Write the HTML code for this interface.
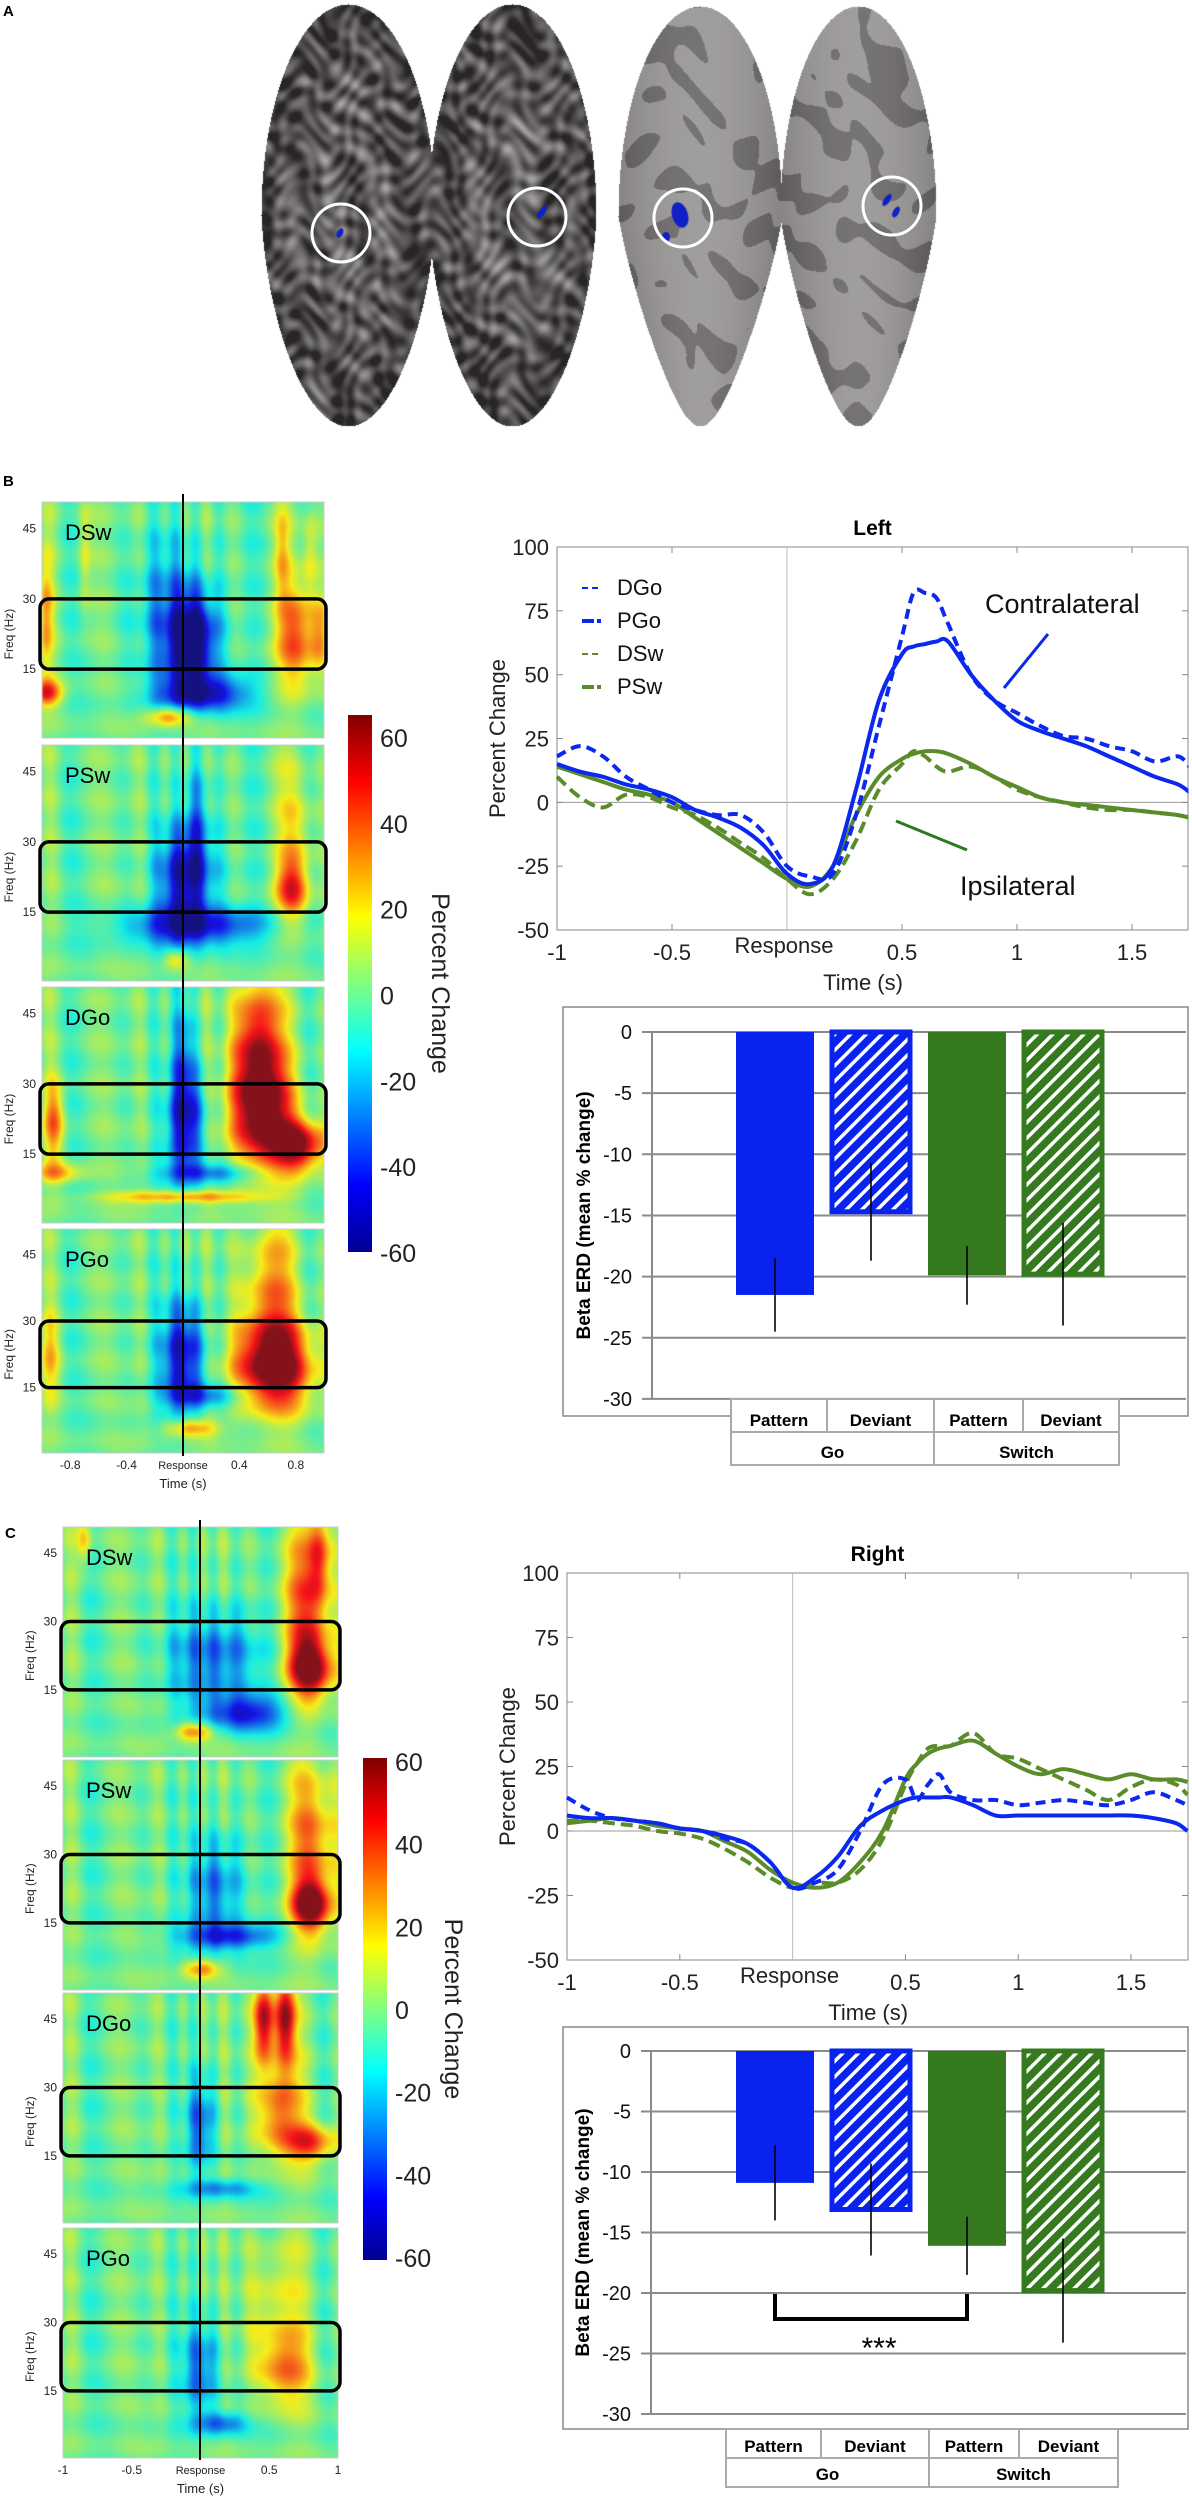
<!DOCTYPE html>
<html><head><meta charset="utf-8">
<style>
html,body{margin:0;padding:0;background:#fff;}
#wrap{position:relative;width:1192px;height:2500px;overflow:hidden;font-family:"Liberation Sans",sans-serif;}
canvas,svg{position:absolute;left:0;top:0;}
</style></head>
<body>
<div id="wrap">
<canvas id="cv" width="1192" height="2500"></canvas>
<svg id="sv" width="1192" height="2500" xmlns="http://www.w3.org/2000/svg">
<defs>
<pattern id="hatchBlue" patternUnits="userSpaceOnUse" width="11" height="11" patternTransform="rotate(45)"><rect width="11" height="11" fill="#0a22ee"/><rect x="0" width="3.5" height="11" fill="#fff"/></pattern>
<pattern id="hatchGreen" patternUnits="userSpaceOnUse" width="11" height="11" patternTransform="rotate(45)"><rect width="11" height="11" fill="#367a20"/><rect x="0" width="3.5" height="11" fill="#fff"/></pattern>
<linearGradient id="jetGrad" x1="0" y1="1" x2="0" y2="0">
<stop offset="0" stop-color="#00008f"/><stop offset="0.125" stop-color="#0000ff"/><stop offset="0.375" stop-color="#00ffff"/><stop offset="0.5" stop-color="#80ff80"/><stop offset="0.625" stop-color="#ffff00"/><stop offset="0.875" stop-color="#ff0000"/><stop offset="1" stop-color="#800000"/>
</linearGradient>
</defs>
<text x="3" y="16" font-size="15" font-weight="bold">A</text>
<text x="3" y="486" font-size="15" font-weight="bold">B</text>
<text x="5" y="1538" font-size="15" font-weight="bold">C</text>
<g id="brainCircles">
<circle cx="341" cy="233" r="29" fill="none" stroke="#fff" stroke-width="3"/>
<circle cx="537" cy="217" r="29" fill="none" stroke="#fff" stroke-width="3"/>
<circle cx="683" cy="218" r="29" fill="none" stroke="#fff" stroke-width="3"/>
<circle cx="892" cy="206" r="29" fill="none" stroke="#fff" stroke-width="3"/>
</g>
</svg>
</div>
<script>
// ===== Line chart data (Percent Change) =====
const timesL = [-1,-0.9,-0.8,-0.7,-0.6,-0.5,-0.4,-0.3,-0.2,-0.1,0,0.1,0.2,0.3,0.4,0.5,0.55,0.6,0.65,0.7,0.8,0.9,1.0,1.1,1.2,1.3,1.4,1.5,1.6,1.7,1.75];
const leftDGo = [18,22,18,10,5,0,-3,-5,-5,-12,-25,-29,-28,-5,30,65,82,82,80,70,50,40,35,30,26,25,22,20,16,18,14];
const leftPGo = [15,12,10,7,5,2,-3,-6,-10,-17,-28,-32,-25,5,40,58,61,62,63,63,50,40,32,28,25,22,18,14,10,7,4];
const leftDSw = [10,2,-2,3,2,-2,-5,-10,-16,-22,-30,-36,-30,-15,5,15,20,18,14,12,14,10,5,2,0,-2,-3,-3,-4,-5,-6];
const leftPSw = [14,11,8,5,3,0,-6,-12,-18,-24,-30,-33,-25,-5,10,17,19,20,20,19,15,10,6,2,0,-1,-2,-3,-4,-5,-6];
const rightDGo = [13,8,5,4,3,1,0,-3,-5,-12,-22,-20,-15,0,18,20,12,18,22,15,12,12,10,11,12,11,10,12,15,12,10];
const rightPGo = [6,5,5,4,3,1,0,-2,-5,-12,-22,-18,-10,2,8,12,13,13,13,13,10,6,6,6,6,6,6,6,5,3,0];
const rightDSw = [4,4,3,2,0,-1,-3,-7,-12,-18,-22,-20,-20,-15,-3,18,26,32,33,33,38,30,28,24,20,16,12,17,20,18,14];
const rightPSw = [3,4,5,4,2,1,0,-4,-8,-15,-20,-22,-20,-12,0,20,26,30,32,33,35,30,25,22,24,22,20,22,20,20,19];
const xTickVals = [-1,-0.5,0.5,1,1.5];
const xTickLabels = ["-1","-0.5","0.5","1","1.5"];
const yTickVals = [100,75,50,25,0,-25,-50];
const legendNames = ["DGo","PGo","DSw","PSw"];

// ===== Bar chart data (Beta ERD) =====
const barCats = ["Pattern Go","Deviant Go","Pattern Switch","Deviant Switch"];
const barLeftVals = [-21.5,-14.7,-19.9,-19.8];
const barLeftSem = [3.0,4.0,2.4,4.2];
const barRightVals = [-10.9,-13.1,-16.1,-19.8];
const barRightSem = [3.1,3.8,2.4,4.3];
const barTicks = [0,-5,-10,-15,-20,-25,-30];

// ===== Spectrogram blobs: [time s, freq Hz, time radius, freq radius, % change] =====
const specB_DSw = [[0.07,21,0.15,9,-62],[-0.08,26,0.25,16,-28],[0.15,10,0.3,3.5,-50],[0.8,22,0.14,10,34],[0.96,22,0.07,8,22],[-0.97,10,0.1,2.5,45],[-0.98,26,0.05,12,24],[-0.1,5,0.15,2,38],[0.7,40,0.05,10,16],[0.9,40,0.05,10,18],[-0.7,40,0.04,12,12]];
const specB_PSw = [[0.02,22,0.18,11,-55],[0.08,12,0.5,3.5,-44],[0.77,20,0.11,6,36],[0.8,32,0.13,14,14],[-0.05,5,0.08,2,24],[0.1,36,0.08,14,-24]];
const specB_DGo = [[0.02,22,0.12,12,-50],[0.55,24,0.2,12,66],[0.52,40,0.15,14,48],[0.82,17,0.18,5,60],[-0.92,22,0.07,8,30],[0.0,6,0.5,1.3,34],[0.2,11,0.35,2,-34],[-0.9,11,0.18,2,24],[0.0,38,0.07,14,-24]];
const specB_PGo = [[0.0,22,0.15,12,-50],[0.64,20,0.26,9,66],[0.6,35,0.18,17,30],[0.15,13,0.25,2.5,-30],[0.05,6,0.18,2,34],[-0.95,22,0.07,10,18]];
const specC_DSw = [[0.1,22,0.3,10,-34],[0.32,10,0.3,3.5,-44],[0.8,20,0.15,6,55],[0.77,33,0.18,17,34],[-0.05,6,0.13,2,38],[-0.85,48,0.05,5,24],[0.86,45,0.07,10,32]];
const specC_PSw = [[0.1,22,0.18,12,-32],[0.2,12,0.35,2.5,-38],[0.8,19,0.13,5,58],[0.82,32,0.18,17,32],[0.0,5,0.13,2,34]];
const specC_DGo = [[0.46,45,0.07,9,62],[0.61,45,0.07,9,58],[0.56,25,0.15,10,38],[0.8,18,0.18,4,38],[0.0,22,0.1,10,-34],[0.15,8,0.25,2,-28]];
const specC_PGo = [[0.0,20,0.13,10,-32],[0.15,8,0.18,2.5,-32],[0.6,20,0.18,8,30],[0.52,35,0.18,14,16]];
const colorTicks = [60,40,20,0,-20,-40,-60];

const NS="http://www.w3.org/2000/svg";
const sv=document.getElementById('sv');
const ctx=document.getElementById('cv').getContext('2d');
function mk(tag,attrs,parent,txt){const e=document.createElementNS(NS,tag);for(const k in attrs)e.setAttribute(k,attrs[k]);if(txt!==undefined)e.textContent=txt;(parent||sv).appendChild(e);return e;}

function jet(v){let x=(v+60)/120;x=Math.max(0,Math.min(1,x));const c=t=>Math.max(0,Math.min(1,1.5-Math.abs(4*x-t)));return [c(3),c(2),c(1)];}

// ===== Brains (canvas) =====
function noise(X,Y,s){return Math.sin(X*0.21*s+Math.sin(Y*0.07*s)*3+Math.cos(X*0.05))*Math.cos(Y*0.17*s+Math.sin(X*0.09*s)*2.7)+0.6*Math.sin(X*0.13*s-Y*0.11*s+Math.sin(Y*0.03)*4)+0.4*Math.cos(Y*0.29*s+Math.sin(X*0.15)*2);}
function brainHemi(cx,cy,rx,ry,inflated,pinch){
  const img=ctx.getImageData(cx-rx,cy-ry,rx*2,ry*2);
  for(let j=0;j<ry*2;j++){for(let i=0;i<rx*2;i++){
    const dx=(i-rx)/rx, dy=(j-ry)/ry;
    let w=1-(inflated?Math.max(0,dy)*pinch:0.12*Math.max(0,dy));
    let ddx=dx/w;
    if(ddx*ddx+dy*dy>1)continue;
    const X=cx-rx+i,Y=cy-ry+j;
    let val;
    if(!inflated){
      const n=noise(X,Y,1);
      val=100+38*n-30*(ddx*ddx+dy*dy);
    } else {
      const n=noise(X*0.45,Y*0.45,1);
      val=(n>0.45?118:160)-25*(ddx*ddx);
    }
    val=Math.max(40,Math.min(225,val));
    const p=(j*rx*2+i)*4;img.data[p]=val;img.data[p+1]=val-3;img.data[p+2]=val-3;img.data[p+3]=255;
  }}
  ctx.putImageData(img,cx-rx,cy-ry);
}
brainHemi(348,215,87,211,false,0);
brainHemi(512,215,84,211,false,0);
brainHemi(700,216,82,210,true,0.45);
brainHemi(858,216,78,210,true,0.4);
ctx.fillStyle='#1020c8';
ctx.beginPath();ctx.ellipse(340,233,3,5,0.5,0,7);ctx.fill();
ctx.beginPath();ctx.ellipse(542,212,3,8,0.6,0,7);ctx.fill();
ctx.beginPath();ctx.ellipse(680,215,8,13,-0.3,0,7);ctx.fill();
ctx.beginPath();ctx.ellipse(666,237,4,5,0,0,7);ctx.fill();
ctx.beginPath();ctx.ellipse(887,200,3,7,0.6,0,7);ctx.fill();
ctx.beginPath();ctx.ellipse(896,212,3,6,0.5,0,7);ctx.fill();

// ===== Spectrograms =====
function drawSpec(px,py,w,h,blobs,name,label,tMin,tMax){
  const fTop=50.7,fBot=0.3;
  const tOf=i=>tMin+(tMax-tMin)*i/w, fOf=j=>fTop-(fTop-fBot)*j/h;
  const img=ctx.createImageData(w,h);
  for(let j=0;j<h;j++){const f=fOf(j);for(let i=0;i<w;i++){const t=tOf(i);
    let v=-3+6*Math.sin(t*29+Math.sin(t*5)*3+f*0.02)*Math.min(1,f/25)+3*Math.sin(f*0.7+t)+3*Math.sin(t*11);
    for(const b of blobs){const dx=(t-b[0])/b[2],dy=(f-b[1])/b[3];const r2=dx*dx+dy*dy;v+=(b[4]+2)*Math.exp(-r2*0.9);}
    const c=jet(v);const p=(j*w+i)*4;
    img.data[p]=(c[0]*0.88+0.08)*255;img.data[p+1]=(c[1]*0.86+0.07)*255;img.data[p+2]=(c[2]*0.8+0.1)*255;img.data[p+3]=255;}}
  ctx.putImageData(img,px,py);
  const g=mk('g',{});
  
  
  const yF=f=>py+(fTop-f)/(fTop-fBot)*h;
  const r=mk('rect',{x:px,y:py,width:w,height:h,fill:'none',stroke:'#ccc','stroke-width':1},g);
  
  
  const box=mk('rect',{x:px-2,y:yF(30),width:w+4,height:yF(15)-yF(30),rx:9,fill:'none',stroke:'#000','stroke-width':3.5},g);
  
  
  for(const f of [45,30,15]){const t=mk('text',{x:px-6,y:yF(f)+4,'font-size':12,'text-anchor':'end',fill:'#222'},g,String(f));
    
    }
  const yl=mk('text',{transform:`translate(${px-29},${yF(22.5)}) rotate(-90)`,'font-size':12,'text-anchor':'middle',fill:'#222'},g,'Freq (Hz)');
  
  
  const lb=mk('text',{x:px+23,y:py+38,'font-size':22,fill:'#000'},g,label);
  
  
}
const bTops=[502,745,987,1229], cTops=[1527,1760,1993,2228];
drawSpec(42,bTops[0],282,236,specB_DSw,'spec-left-dsw','DSw',-1,1);
drawSpec(42,bTops[1],282,236,specB_PSw,'spec-left-psw','PSw',-1,1);
drawSpec(42,bTops[2],282,236,specB_DGo,'spec-left-dgo','DGo',-1,1);
drawSpec(42,bTops[3],282,224,specB_PGo,'spec-left-pgo','PGo',-1,1);
drawSpec(63,cTops[0],275,230,specC_DSw,'spec-right-dsw','DSw',-1,1);
drawSpec(63,cTops[1],275,230,specC_PSw,'spec-right-psw','PSw',-1,1);
drawSpec(63,cTops[2],275,230,specC_DGo,'spec-right-dgo','DGo',-1,1);
drawSpec(63,cTops[3],275,230,specC_PGo,'spec-right-pgo','PGo',-1,1);
// response lines
let rl=mk('line',{x1:183,y1:494,x2:183,y2:1456,stroke:'#000','stroke-width':2});


rl=mk('line',{x1:200,y1:1520,x2:200,y2:2460,stroke:'#000','stroke-width':2});


function specAxis(x0,w,y,ticks,labels,name){
  const g=mk('g',{});
  
  
  ticks.forEach((t,i)=>{const x=x0+(t+1)/2*w;
    const tx=mk('text',{x:x,y:y,'font-size':labels[i]==='Response'?11:12,'text-anchor':'middle',fill:'#222'},g,labels[i]);
    
    });
  const tt=mk('text',{x:x0+w/2,y:y+19,'font-size':13,'text-anchor':'middle',fill:'#222'},g,'Time (s)');
  
  
}
specAxis(42,282,1469,[-0.8,-0.4,0,0.4,0.8],['-0.8','-0.4','Response','0.4','0.8'],'spec-x-axis-b');
specAxis(63,275,2474,[-1,-0.5,0,0.5,1],['-1','-0.5','Response','0.5','1'],'spec-x-axis-c');

// ===== Colorbars =====
function colorbar(x,y0,y1,labY0,labY1,txtX,titleX,name){
  const g=mk('g',{});
  
  
  const r=mk('rect',{x:x,y:y0,width:24,height:y1-y0,fill:'url(#jetGrad)'},g);
  
  
  colorTicks.forEach(v=>{const yy=labY1+(60-v)/120*(labY0-labY1);
    const t=mk('text',{x:x+32,y:yy+9,'font-size':25,fill:'#222'},g,String(v));
    
    });
  const tt=mk('text',{transform:`translate(${titleX},${(y0+y1)/2}) rotate(90)`,'font-size':25,'text-anchor':'middle',fill:'#222'},g,'Percent Change');
  
  
}
colorbar(348,715,1252,1253,738,0,432,'colorbar-b');
colorbar(363,1758,2260,2258,1762,0,445,'colorbar-c');

// ===== Line charts =====
const styles=[{c:'#0a28f0',d:'10 6',w:4},{c:'#0a28f0',d:'',w:4},{c:'#5b8c2a',d:'12 6',w:4},{c:'#5b8c2a',d:'',w:4}];
function lineChart(L,title,series,name){
  const g=mk('g',{});
  
  
  const xs=t=>L.x+(t+1)*L.pps, ys=v=>L.y+(100-v)*L.h/150;
  const right=L.x+L.w;
  mk('rect',{x:L.x,y:L.y,width:L.w,height:L.h,fill:'#fff',stroke:'#888','stroke-width':1},g);
  const z=mk('line',{x1:L.x,y1:ys(0),x2:right,y2:ys(0),stroke:'#999','stroke-width':1},g);
  
  
  const vl=mk('line',{x1:xs(0),y1:L.y,x2:xs(0),y2:L.y+L.h,stroke:'#bbb','stroke-width':1},g);
  
  
  yTickVals.forEach(v=>{const y=ys(v);
    mk('line',{x1:L.x,y1:y,x2:L.x+6,y2:y,stroke:'#888'},g);mk('line',{x1:right,y1:y,x2:right-6,y2:y,stroke:'#888'},g);
    const t=mk('text',{x:L.x-8,y:y+8,'font-size':22,'text-anchor':'end',fill:'#222'},g,String(v));
    
    });
  xTickVals.forEach((v,i)=>{const x=xs(v);
    mk('line',{x1:x,y1:L.y+L.h,x2:x,y2:L.y+L.h-6,stroke:'#888'},g);mk('line',{x1:x,y1:L.y,x2:x,y2:L.y+6,stroke:'#888'},g);
    const t=mk('text',{x:x,y:L.y+L.h+30,'font-size':22,'text-anchor':'middle',fill:'#222'},g,xTickLabels[i]);
    
    });
  const rs=mk('text',{x:xs(0)-3,y:L.y+L.h+23,'font-size':22,'text-anchor':'middle',fill:'#222'},g,'Response');
  
  
  const xt=mk('text',{x:L.x+L.w*0.485,y:L.y+L.h+60,'font-size':22,'text-anchor':'middle',fill:'#222'},g,'Time (s)');
  
  
  const yt=mk('text',{transform:`translate(${L.x-52},${L.y+L.h*0.5}) rotate(-90)`,'font-size':22,'text-anchor':'middle',fill:'#222'},g,'Percent Change');
  
  
  const tt=mk('text',{x:L.x+L.w*0.5,y:L.y-12,'font-size':21,'font-weight':'bold','text-anchor':'middle'},g,title);
  
  
  [2,3,0,1].forEach(k=>{const s=series[k];const pts=timesL.map((t,i)=>[xs(t),ys(s[i])]);
    let d='M'+pts[0][0]+','+pts[0][1];
    for(let i=1;i<pts.length;i++){const p0=pts[Math.max(0,i-2)],p1=pts[i-1],p2=pts[i],p3=pts[Math.min(pts.length-1,i+1)];
      d+=` C${p1[0]+(p2[0]-p0[0])/6},${p1[1]+(p2[1]-p0[1])/6} ${p2[0]-(p3[0]-p1[0])/6},${p2[1]-(p3[1]-p1[1])/6} ${p2[0]},${p2[1]}`;}
    const p=mk('path',{d:d,fill:'none',stroke:styles[k].c,'stroke-width':styles[k].w,'stroke-dasharray':styles[k].d,'stroke-linejoin':'round'},g);
    
    });
  mk('rect',{x:right+0.5,y:L.y-5,width:20,height:L.h+10,fill:'#fff'},g);
  return {g,xs,ys};
}
const LB={x:557,y:547,w:631,h:383,pps:230};
const LC={x:567,y:1573,w:621,h:387,pps:225.6};
const cb=lineChart(LB,'Left',[leftDGo,leftPGo,leftDSw,leftPSw],'line-chart-left');
const cc=lineChart(LC,'Right',[rightDGo,rightPGo,rightDSw,rightPSw],'line-chart-right');
legendNames.forEach((n,k)=>{const y=595+k*33;
  const g=mk('g',{});
  
  
  mk('line',{x1:582,y1:y-7,x2:601,y2:y-7,stroke:styles[k].c,'stroke-width':k%2?4:2,'stroke-dasharray':k%2?'12 3':'6 4'},g);
  mk('text',{x:617,y:y,'font-size':22,fill:'#111'},g,n);});
let an=mk('text',{x:985,y:613,'font-size':27,fill:'#111'},sv,'Contralateral');


an=mk('line',{x1:1048,y1:634,x2:1004,y2:688,stroke:'#0a28f0','stroke-width':3});


an=mk('text',{x:960,y:895,'font-size':27,fill:'#111'},sv,'Ipsilateral');


an=mk('line',{x1:896,y1:821,x2:967,y2:850,stroke:'#2a7a20','stroke-width':3});



// ===== Bar charts =====
const barFill=['#0a22ee','url(#hatchBlue)','#367a20','url(#hatchGreen)'];
const barStroke=['#0a22ee','#0a22ee','#367a20','#367a20'];
function barChart(B,vals,sem,name){
  const g=mk('g',{});
  
  
  const ys=v=>B.zero+(-v)*B.pu, xc=i=>B.c0+B.step*i;
  mk('rect',{x:B.bx,y:B.by,width:625,height:B.bh,fill:'#fff',stroke:'#888','stroke-width':1.5},g);
  barTicks.forEach(v=>{const y=ys(v);
    mk('line',{x1:B.ax-10,y1:y,x2:1186,y2:y,stroke:'#8a8a8a','stroke-width':2},g);
    const t=mk('text',{x:B.ax-20,y:y+7,'font-size':20,'text-anchor':'end',fill:'#111'},g,String(v));
    
    });
  mk('line',{x1:B.ax,y1:ys(0),x2:B.ax,y2:ys(-30),stroke:'#8a8a8a','stroke-width':2},g);
  const yt=mk('text',{transform:`translate(${B.ax-62},${ys(-15)}) rotate(-90)`,'font-size':19,'font-weight':'bold','text-anchor':'middle'},g,'Beta ERD (mean % change)');
  
  
  vals.forEach((v,i)=>{const x=xc(i)-B.bw/2;
    const r=mk('rect',{x:x+2,y:ys(0),width:B.bw-4,height:ys(v)-ys(0),fill:barFill[i],stroke:barStroke[i],'stroke-width':i%2?5:0},g);
    
    
    const e=mk('line',{x1:xc(i),y1:ys(v+sem[i]),x2:xc(i),y2:ys(v-sem[i]),stroke:'#000','stroke-width':1.6},g);
    
    });
  const tb=mk('g',{},g);
  
  
  const xsP=B.cols;
  mk('rect',{x:xsP[0],y:B.ty,width:xsP[4]-xsP[0],height:B.rh*2,fill:'#fff',stroke:'#aaa','stroke-width':2},tb);
  mk('line',{x1:xsP[0],y1:B.ty+B.rh,x2:xsP[4],y2:B.ty+B.rh,stroke:'#aaa','stroke-width':2},tb);
  [1,3].forEach(k=>mk('line',{x1:xsP[k],y1:B.ty,x2:xsP[k],y2:B.ty+B.rh,stroke:'#aaa','stroke-width':2},tb));
  mk('line',{x1:xsP[2],y1:B.ty,x2:xsP[2],y2:B.ty+B.rh*2,stroke:'#aaa','stroke-width':2},tb);
  ['Pattern','Deviant','Pattern','Deviant'].forEach((s,k)=>{const t=mk('text',{x:(xsP[k]+xsP[k+1])/2,y:B.ty+B.rh-6,'font-size':17,'font-weight':'bold','text-anchor':'middle'},tb,s);
    
    });
  ['Go','Switch'].forEach((s,k)=>{const t=mk('text',{x:(xsP[2*k]+xsP[2*k+2])/2,y:B.ty+B.rh*2-7,'font-size':17,'font-weight':'bold','text-anchor':'middle'},tb,s);
    
    });
  return {ys,xc};
}
barChart({bx:563,by:1007,bh:409,ax:652,zero:1032,pu:12.23,c0:775,step:96,bw:82,ty:1399,rh:33,cols:[731,827,934,1023,1119]},barLeftVals,barLeftSem,'bar-chart-left');
const bcR=barChart({bx:563,by:2027,bh:402,ax:651,zero:2051,pu:12.1,c0:775,step:96,bw:82,ty:2429,rh:29,cols:[726,821,929,1019,1118]},barRightVals,barRightSem,'bar-chart-right');
const br=mk('path',{d:`M${bcR.xc(0)},2294 L${bcR.xc(0)},2319 L${bcR.xc(2)},2319 L${bcR.xc(2)},2294`,fill:'none',stroke:'#000','stroke-width':4});


const st=mk('text',{x:(bcR.xc(0)+bcR.xc(2))/2+8,y:2358,'font-size':30,'text-anchor':'middle'},sv,'***');


sv.appendChild(document.getElementById('brainCircles'));
</script>
</body></html>
